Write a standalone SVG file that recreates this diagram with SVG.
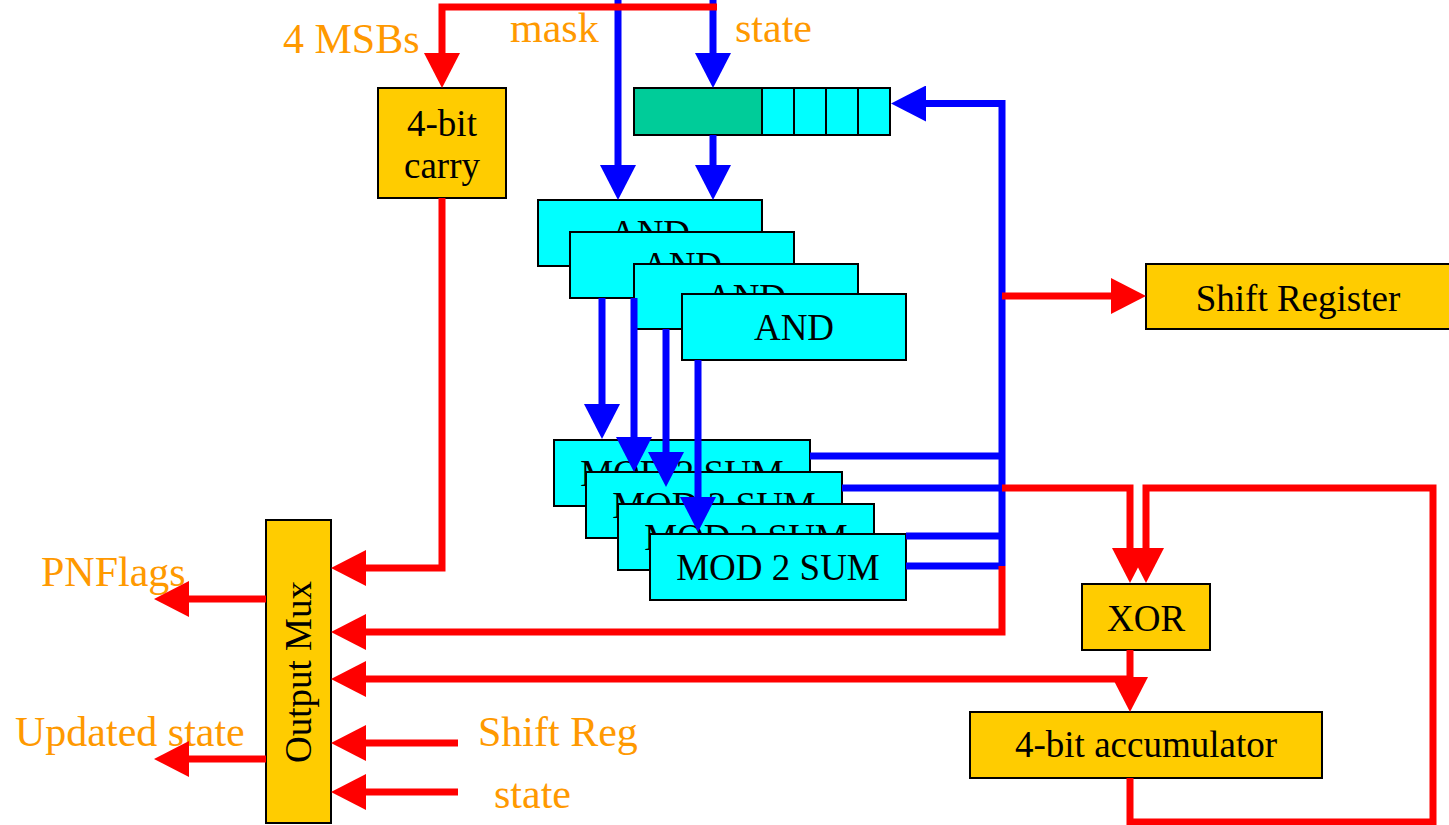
<svg xmlns="http://www.w3.org/2000/svg" width="1449" height="825" viewBox="0 0 1449 825">
<style>
.box{stroke:#000;stroke-width:2}
.y{fill:#FFCC00}
.c{fill:#00FFFF}
.g{fill:#00CC99}
.t{font-family:"Liberation Serif","Times New Roman",serif;font-size:37px;fill:#000;text-anchor:middle}
.o{font-family:"Liberation Serif","Times New Roman",serif;font-size:42px;fill:#FF9900}
.r{fill:none;stroke:#FF0000;stroke-width:7;stroke-linejoin:miter}
.b{fill:none;stroke:#0000FF;stroke-width:7;stroke-linejoin:miter}
.ra{marker-end:url(#ar)}
.ba{marker-end:url(#ab)}
</style>
<defs>
<marker id="ar" markerUnits="userSpaceOnUse" markerWidth="36" markerHeight="36" refX="0" refY="18" orient="auto" viewBox="0 0 36 36"><path d="M0,0 L35,18 L0,36 z" fill="#FF0000"/></marker>
<marker id="ab" markerUnits="userSpaceOnUse" markerWidth="36" markerHeight="36" refX="0" refY="18" orient="auto" viewBox="0 0 36 36"><path d="M0,0 L35,18 L0,36 z" fill="#0000FF"/></marker>
</defs>
<rect width="1449" height="825" fill="#FFFFFF"/>

<g id="labels">
<text class="o" x="283" y="53">4 MSBs</text>
<text class="o" x="510" y="42">mask</text>
<text class="o" x="735" y="42">state</text>
<text class="o" x="41" y="586">PNFlags</text>
<text class="o" x="15" y="746">Updated state</text>
<text class="o" x="478" y="746">Shift Reg</text>
<text class="o" x="494" y="808">state</text>
</g>

<g id="carry">
<rect class="box y" x="378" y="88" width="128" height="110"/>
<text class="t" x="442" y="136">4-bit</text>
<text class="t" x="442" y="178">carry</text>
</g>

<g id="state-register">
<rect class="box g" x="634" y="88" width="128" height="47"/>
<rect class="box c" x="762" y="88" width="32" height="47"/>
<rect class="box c" x="794" y="88" width="32" height="47"/>
<rect class="box c" x="826" y="88" width="32" height="47"/>
<rect class="box c" x="858" y="88" width="32" height="47"/>
</g>

<g id="and1"><rect class="box c" x="538" y="200" width="224" height="66"/><text class="t" x="650" y="246">AND</text></g>
<g id="and2"><rect class="box c" x="570" y="232" width="224" height="66"/><text class="t" x="682" y="278">AND</text></g>
<g id="and3"><rect class="box c" x="634" y="264" width="224" height="65"/><text class="t" x="746" y="310">AND</text></g>
<g id="and4"><rect class="box c" x="682" y="294" width="224" height="66"/><text class="t" x="794" y="340">AND</text></g>

<g id="shift-register">
<rect class="box y" x="1146" y="264" width="310" height="65"/>
<text class="t" x="1298" y="311">Shift Register</text>
</g>

<g id="mod1"><rect class="box c" x="554" y="440" width="256" height="66"/><text class="t" x="682" y="486">MOD 2 SUM</text></g>
<g id="mod2"><rect class="box c" x="586" y="472" width="256" height="66"/><text class="t" x="714" y="518">MOD 2 SUM</text></g>
<g id="mod3"><rect class="box c" x="618" y="504" width="256" height="66"/><text class="t" x="746" y="550">MOD 2 SUM</text></g>
<g id="mod4"><rect class="box c" x="650" y="534" width="256" height="66"/><text class="t" x="778" y="580">MOD 2 SUM</text></g>

<g id="xor">
<rect class="box y" x="1082" y="584" width="128" height="66"/>
<text class="t" x="1146" y="631">XOR</text>
</g>

<g id="accumulator">
<rect class="box y" x="970" y="712" width="352" height="66"/>
<text class="t" x="1146" y="757">4-bit accumulator</text>
</g>

<g id="output-mux">
<rect class="box y" x="266" y="520" width="65" height="303"/>
<text class="t" transform="translate(311,672) rotate(-90)" x="0" y="0">Output Mux</text>
</g>

<g id="connectors">
<polyline class="b ba" points="618,0 618,165"/>
<polyline class="b ba" points="713,0 713,53"/>
<polyline class="b ba" points="713,135 713,165"/>
<polyline class="b ba" points="1002,566 1002,103.5 926,103.5"/>
<polyline class="b" points="810,456 1002,456"/>
<polyline class="b" points="842,488 1002,488"/>
<polyline class="b" points="906,536 1002,536"/>
<polyline class="b" points="906,566 1002,566"/>
<polyline class="b ba" points="602,298 602,404"/>
<polyline class="b ba" points="634,298 634,437"/>
<polyline class="b ba" points="666,329 666,452"/>
<polyline class="b ba" points="698,360 698,497"/>
<polyline class="r ra" points="717,7 442,7 442,53"/>
<polyline class="r ra" points="442,198 442,568 366,568"/>
<polyline class="r ra" points="1002,566 1002,632 366,632"/>
<polyline class="r ra" points="1002,296 1111,296"/>
<polyline class="r ra" points="1002,488 1130,488 1130,548"/>
<polyline class="r ra" points="1130,778 1130,822 1433,822 1433,488 1146,488 1146,548"/>
<polyline class="r ra" points="1130,650 1130,677"/>
<polyline class="r ra" points="1130,679 366,679"/>
<polyline class="r ra" points="458,743 366,743"/>
<polyline class="r ra" points="458,792 366,792"/>
<polyline class="r ra" points="266,599 189,599"/>
<polyline class="r ra" points="266,759 189,759"/>
</g>
</svg>
